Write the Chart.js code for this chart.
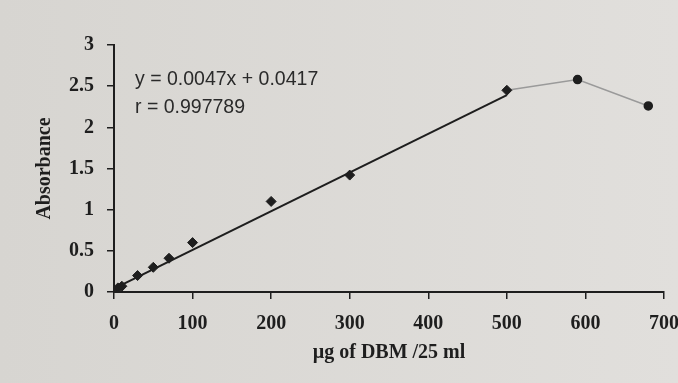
<!DOCTYPE html>
<html>
<head>
<meta charset="utf-8">
<script src="https://cdn.jsdelivr.net/npm/chart.js@4.4.1/dist/chart.umd.min.js"></script>
<style>
  html, body { margin: 0; padding: 0; background: #dcdad6; }
  #wrap { width: 678px; height: 383px; position: relative; background: linear-gradient(90deg, #d7d5d1, #e1dfdc); }
</style>
</head>
<body>
<div id="wrap"><canvas id="chart"></canvas></div>
<script>
// calibration points (µg of DBM / 25 ml, absorbance)
const calX = [5, 10, 30, 50, 70, 100, 200, 300, 500];
const calY = [0.05, 0.07, 0.2, 0.3, 0.41, 0.6, 1.1, 1.42, 2.45];

// points beyond the linear range
const highX = [500, 590, 680];
const highY = [2.45, 2.58, 2.26];

// fitted line
const slope = 0.0047;
const intercept = 0.0417;
const fitX = [0, 500];
const rValue = '0.997789';

const xTicks = [0, 100, 200, 300, 400, 500, 600, 700];
const yTicks = [0, 0.5, 1, 1.5, 2, 2.5, 3];

const ink = '#1e1e1e';
const serif = { family: "'Liberation Serif', 'Times New Roman', serif", size: 20, weight: 'bold' };

const equationText = {
  id: 'equationText',
  afterDatasetsDraw(chart) {
    const ctx = chart.ctx;
    const area = chart.chartArea;
    ctx.save();
    ctx.fillStyle = '#2a2a2a';
    ctx.font = "19.5px 'Liberation Sans', Arial, sans-serif";
    ctx.textBaseline = 'middle';
    ctx.fillText('y = 0.0047x + 0.0417', area.left + 21, area.top + 35);
    ctx.fillText('r = ' + rValue, area.left + 21, area.top + 63);
    ctx.restore();
  }
};

new Chart(document.getElementById('chart'), {
  type: 'scatter',
  data: {
    datasets: [
      {
        label: 'fit',
        type: 'line',
        data: fitX.map(x => ({ x: x, y: slope * x + intercept })),
        borderColor: ink,
        borderWidth: 2,
        pointRadius: 0,
        order: 2
      },
      {
        label: 'high',
        type: 'line',
        data: highX.map((x, i) => ({ x: x, y: highY[i] })),
        borderColor: '#9a9a9a',
        borderWidth: 1.5,
        pointRadius: [0, 4, 4],
        pointBackgroundColor: ink,
        pointBorderColor: ink,
        order: 3
      },
      {
        label: 'calibration',
        data: calX.map((x, i) => ({ x: x, y: calY[i] })),
        pointStyle: 'rectRot',
        pointRadius: 5,
        backgroundColor: ink,
        borderColor: ink,
        order: 1
      }
    ]
  },
  options: {
    responsive: true,
    maintainAspectRatio: false,
    animation: false,
    layout: { padding: { top: 45, right: 14, left: 0, bottom: 0 } },
    plugins: {
      legend: { display: false },
      tooltip: { enabled: false }
    },
    scales: {
      x: {
        type: 'linear',
        min: 0,
        max: 700,
        afterBuildTicks: scale => { scale.ticks = xTicks.map(v => ({ value: v })); },
        afterFit: scale => { scale.height = 91; scale.paddingRight = 0; scale.paddingLeft = 0; },
        border: { color: ink, width: 2 },
        grid: { drawOnChartArea: false, color: ink, tickLength: 7, lineWidth: 1.5 },
        ticks: { color: ink, font: serif, padding: 13, callback: v => String(v) },
        title: {
          display: true,
          text: 'µg of DBM /25 ml',
          color: ink,
          font: serif,
          padding: { top: 0, bottom: 18 }
        }
      },
      y: {
        type: 'linear',
        min: 0,
        max: 3,
        afterBuildTicks: scale => { scale.ticks = yTicks.map(v => ({ value: v })); },
        afterFit: scale => { scale.width = 114; },
        border: { color: ink, width: 2 },
        grid: { drawOnChartArea: false, color: ink, tickLength: 7, lineWidth: 1.5 },
        ticks: { color: ink, font: serif, padding: 13, callback: v => String(v) },
        title: {
          display: true,
          text: 'Absorbance',
          color: ink,
          font: serif,
          padding: { top: 33, bottom: 0 }
        }
      }
    }
  },
  plugins: [equationText]
});
</script>
</body>
</html>
